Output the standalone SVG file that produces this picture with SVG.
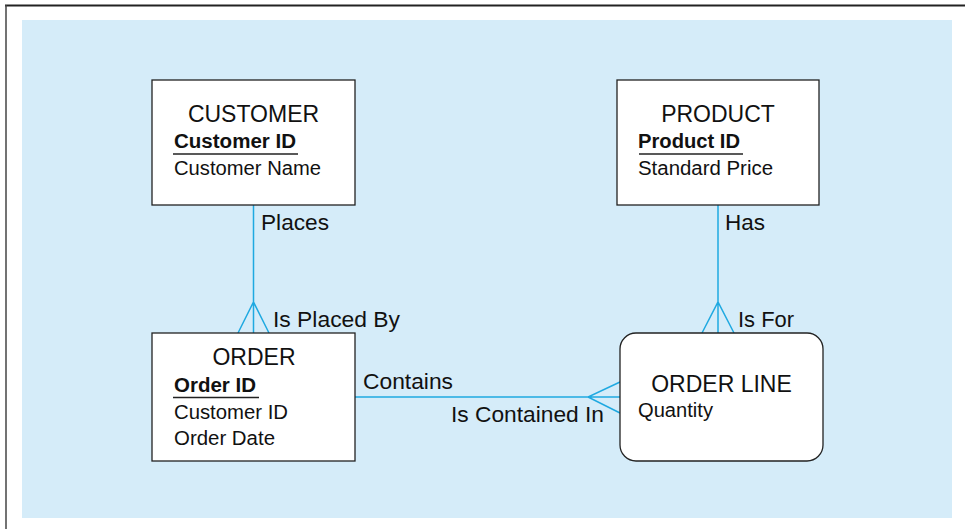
<svg xmlns="http://www.w3.org/2000/svg" width="965" height="529" viewBox="0 0 965 529">
<style>
text{font-family:"Liberation Sans",Arial,Helvetica,sans-serif;fill:#111}
.title{font-size:23px}
.attr{font-size:19.5px}
.pk{font-size:19.5px;font-weight:bold}
.lbl{font-size:22px}
.box{fill:#fff;stroke:#222;stroke-width:1.3}
.ul{stroke:#222;stroke-width:1.5}
.rel{stroke:#1fa9e1;stroke-width:1.5;fill:none}
</style>
<rect x="0" y="0" width="965" height="529" fill="#fff"/>
<line x1="5" y1="5.5" x2="965" y2="5.5" stroke="#222" stroke-width="1.8"/>
<line x1="6" y1="5" x2="6" y2="529" stroke="#444" stroke-width="1.5"/>
<rect x="22" y="20" width="930" height="498" fill="#d5ecf9"/>
<g id="connectors">
<path class="rel" d="M253.5,205 V333 M238,333 L253.5,302 L269,333"/>
<path class="rel" d="M718,205 V333 M702,333 L718,302 L734,333"/>
<path class="rel" d="M355,397 H620 M620,382 L588,397 L620,413"/>
</g>
<g id="customer">
<rect class="box" x="152" y="80" width="203" height="125"/>
<text class="title" x="253.5" y="122" text-anchor="middle">CUSTOMER</text>
<text class="pk" x="174" y="148" textLength="122" lengthAdjust="spacingAndGlyphs">Customer ID</text>
<line class="ul" x1="173" y1="154" x2="298" y2="154"/>
<text class="attr" x="174" y="175" textLength="147" lengthAdjust="spacingAndGlyphs">Customer Name</text>
</g>
<g id="product">
<rect class="box" x="617" y="80" width="202" height="125"/>
<text class="title" x="718" y="122" text-anchor="middle">PRODUCT</text>
<text class="pk" x="638" y="148" textLength="102" lengthAdjust="spacingAndGlyphs">Product ID</text>
<line class="ul" x1="639" y1="154" x2="743" y2="154"/>
<text class="attr" x="638" y="175" textLength="135" lengthAdjust="spacingAndGlyphs">Standard Price</text>
</g>
<g id="order">
<rect class="box" x="152" y="333" width="203" height="128"/>
<text class="title" x="254" y="365" text-anchor="middle">ORDER</text>
<text class="pk" x="174" y="392" textLength="82" lengthAdjust="spacingAndGlyphs">Order ID</text>
<line class="ul" x1="173" y1="397.5" x2="259" y2="397.5"/>
<text class="attr" x="174" y="419" textLength="114" lengthAdjust="spacingAndGlyphs">Customer ID</text>
<text class="attr" x="174" y="445" textLength="101" lengthAdjust="spacingAndGlyphs">Order Date</text>
</g>
<g id="orderline">
<rect class="box" x="620" y="333" width="203" height="128" rx="16" ry="16"/>
<text class="title" x="721.5" y="392" text-anchor="middle">ORDER LINE</text>
<text class="attr" x="638" y="417" font-size="18.5" textLength="75" lengthAdjust="spacingAndGlyphs">Quantity</text>
</g>
<g id="labels">
<text class="lbl" x="261" y="230" textLength="68" lengthAdjust="spacingAndGlyphs">Places</text>
<text class="lbl" x="273" y="327" textLength="127" lengthAdjust="spacingAndGlyphs">Is Placed By</text>
<text class="lbl" x="725" y="230" textLength="40" lengthAdjust="spacingAndGlyphs">Has</text>
<text class="lbl" x="738" y="327" textLength="56" lengthAdjust="spacingAndGlyphs">Is For</text>
<text class="lbl" x="363" y="389" textLength="90" lengthAdjust="spacingAndGlyphs">Contains</text>
<text class="lbl" x="451" y="422" textLength="153" lengthAdjust="spacingAndGlyphs">Is Contained In</text>
</g>
</svg>
